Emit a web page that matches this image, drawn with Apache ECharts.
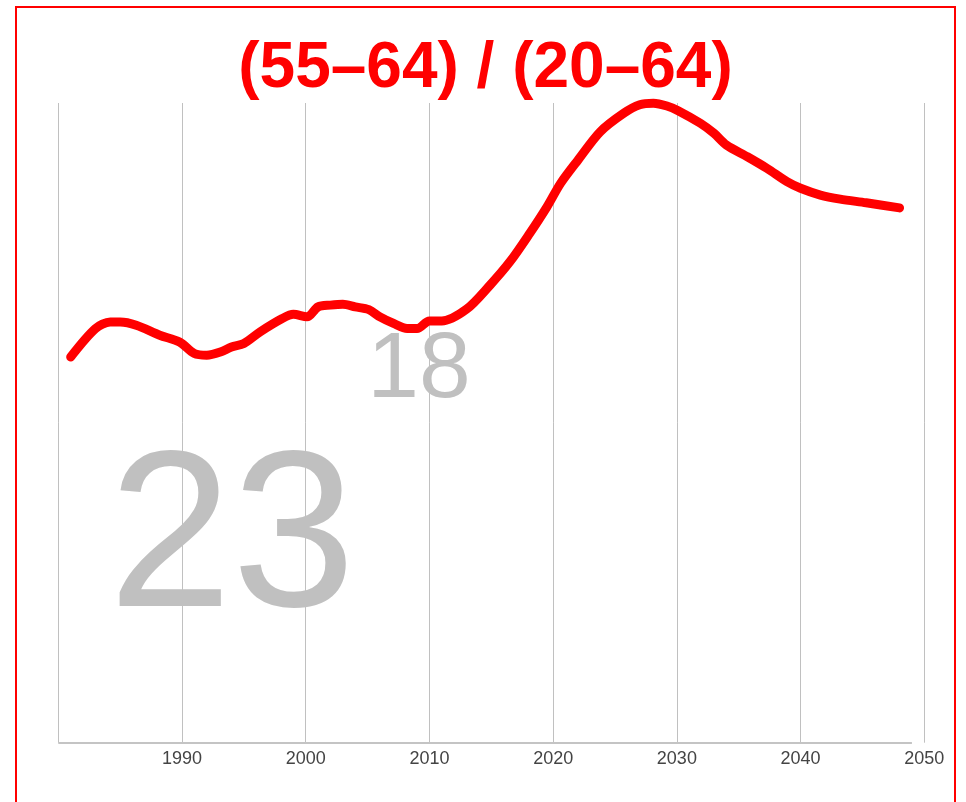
<!DOCTYPE html>
<html>
<head>
<meta charset="utf-8">
<script src="https://cdn.jsdelivr.net/npm/echarts@6/dist/echarts.min.js"></script>
<style>
  html, body { margin: 0; padding: 0; background: #ffffff; overflow: hidden; }
  #frame { position: absolute; left: 15px; top: 6px; width: 937px; height: 900px; border: 2px solid #ff0000; }
  #chart { position: absolute; left: 17px; top: 8px; width: 937px; height: 794px; }
</style>
</head>
<body>
<div id="frame"></div>
<div id="chart"></div>
<script>
// ---- data ----
const titleText = '(55–64) / (20–64)';
const years = [1981, 1983, 1984.2, 1985, 1986.3, 1988.2, 1989.8, 1991, 1992, 1993.1, 1994, 1995,
  1996.3, 1998.1, 1999, 2000.1, 2001, 2002, 2003, 2004, 2005.1, 2006, 2007.1, 2008.2, 2009,
  2010, 2011, 2013, 2014.9, 2016.5, 2018.1, 2019.5, 2020.6, 2022, 2023.8, 2025.7, 2027, 2028.1,
  2029.2, 2030.1, 2031.9, 2033, 2034, 2035.7, 2037.3, 2038.9, 2040, 2041.6, 2043.2, 2045.3, 2048];
const ratio = [18.09, 19.42, 19.73, 19.73, 19.58, 19.11, 18.79, 18.25, 18.17, 18.32, 18.56, 18.72,
  19.26, 19.89, 20.09, 19.97, 20.44, 20.52, 20.56, 20.44, 20.31, 19.97, 19.66, 19.42, 19.42,
  19.78, 19.78, 20.33, 21.46, 22.55, 23.88, 25.13, 26.23, 27.32, 28.65, 29.52, 29.92, 29.99,
  29.86, 29.64, 29.05, 28.58, 28.03, 27.48, 26.93, 26.31, 26.0, 25.68, 25.49, 25.32, 25.08];
const xTickLabels = ['1990', '2000', '2010', '2020', '2030', '2040', '2050'];
const bigLabels = ['23', '18'];
const axisStart = 1980;
const axisEnd = 2049;

const chart = echarts.init(document.getElementById('chart'));
const font = '"Liberation Sans", Arial, sans-serif';

chart.setOption({
  animation: false,
  backgroundColor: 'transparent',
  graphic: [
    { type: 'text', z: -10, x: 215, y: 537,
      style: { text: bigLabels[0], fill: '#c0c0c0', fontSize: 222, fontFamily: font, align: 'center', verticalAlign: 'middle' } },
    { type: 'text', z: -10, x: 402, y: 363,
      style: { text: bigLabels[1], fill: '#c0c0c0', fontSize: 93, fontFamily: font, align: 'center', verticalAlign: 'middle' } },
    { type: 'text', z: 10, left: 'center', top: 19.5,
      style: { text: titleText, fill: '#ff0000', fontSize: 64, fontWeight: 'bold', fontFamily: font, lineHeight: 84 } }
  ],
  grid: { left: 41.3, right: 29.7, top: 95, bottom: 59.3 },
  xAxis: {
    type: 'value',
    min: 1980,
    max: 2050,
    interval: 10,
    axisLine: { show: false },
    axisTick: { show: false },
    axisLabel: {
      color: '#444444',
      fontSize: 18,
      fontFamily: font,
      margin: 7,
      formatter: v => xTickLabels.includes(String(v)) ? String(v) : ''
    },
    splitLine: { show: true, lineStyle: { color: '#c0c0c0', width: 1 } }
  },
  yAxis: {
    type: 'value',
    min: 0,
    max: 30,
    show: false,
    splitLine: { show: false }
  },
  series: [{
    type: 'line',
    data: years.map((y, i) => [y, ratio[i]]),
    showSymbol: false,
    symbol: 'none',
    smooth: 0.3,
    clip: false,
    lineStyle: { color: '#ff0000', width: 9, cap: 'round', join: 'round' },
    markLine: {
      silent: true,
      symbol: ['none', 'none'],
      label: { show: false },
      lineStyle: { color: '#c4c4c4', width: 2, type: 'solid' },
      data: [[{ coord: [axisStart, 0] }, { coord: [axisEnd, 0] }]]
    }
  }]
});
</script>
</body>
</html>
